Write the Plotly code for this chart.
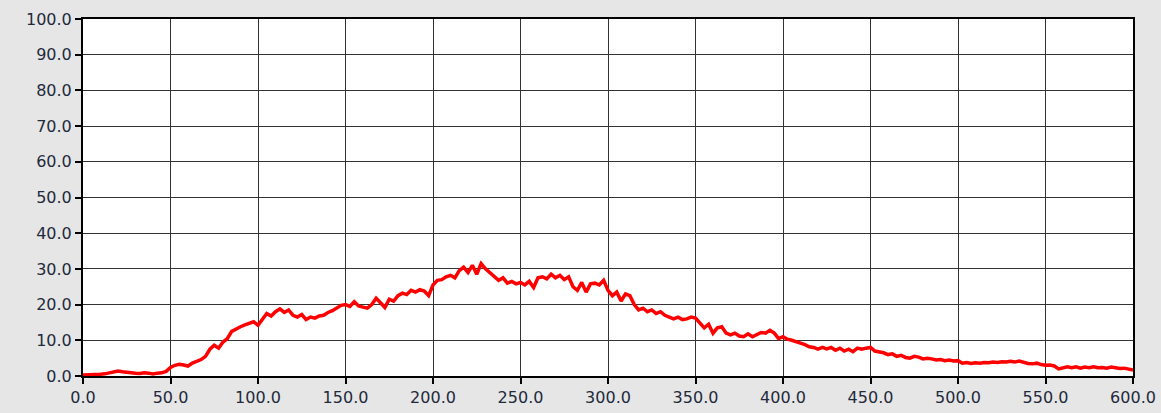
import plotly.graph_objects as go

x_step = 2.5
y_values = [
    0.3, 0.3, 0.3, 0.4, 0.5, 0.6, 0.8, 1.1, 1.4, 1.2,
    1.0, 0.9, 0.8, 0.7, 0.9, 0.8, 0.6, 0.8, 0.9, 1.3,
    2.4, 3.0, 3.3, 3.1, 2.8, 3.6, 4.2, 4.6, 5.5, 7.5,
    8.6, 7.8, 9.5, 10.5, 12.5, 13.2, 13.8, 14.3, 14.8, 15.2,
    14.2, 16.0, 17.5, 16.8, 18.0, 18.8, 17.8, 18.5, 17.0, 16.5,
    17.2, 15.8, 16.5, 16.2, 16.8, 17.0, 17.8, 18.3, 19.2, 19.8,
    20.0, 19.5, 20.8, 19.6, 19.3, 19.0, 20.0, 21.8, 20.5, 19.2,
    21.5, 21.0, 22.5, 23.2, 22.8, 24.0, 23.5, 24.2, 23.8, 22.5,
    25.5, 26.8, 27.0, 27.8, 28.2, 27.5, 29.5, 30.5, 29.0, 31.0,
    28.5, 31.5, 30.0, 29.0, 28.0, 26.8, 27.5, 26.0, 26.5, 25.8,
    26.2, 25.5, 26.5, 24.8, 27.5, 27.8, 27.2, 28.5, 27.5, 28.2,
    27.0, 27.8, 25.0, 24.0, 26.2, 23.5, 25.8, 26.0, 25.5, 26.8,
    24.0, 22.5, 23.5, 21.0, 23.0, 22.5, 20.0, 18.5, 19.0, 18.0,
    18.5, 17.5, 18.0, 17.0, 16.5, 16.0, 16.5, 15.8, 16.0, 16.5,
    16.2, 15.0, 13.5, 14.5, 12.0, 13.5, 13.8, 12.0, 11.5, 12.0,
    11.2, 11.0, 11.8, 11.0, 11.5, 12.2, 12.0, 12.8, 12.0, 10.5,
    11.0, 10.3, 10.0, 9.5, 9.2, 8.8, 8.2, 8.0, 7.5, 8.0,
    7.6, 8.0, 7.2, 7.8, 7.0, 7.5, 6.8, 7.8, 7.5, 7.8,
    8.0, 7.0, 6.8, 6.5, 6.0, 6.2, 5.5, 5.8, 5.2, 5.0,
    5.5, 5.3, 4.8, 5.0, 4.8, 4.5, 4.6, 4.3, 4.5, 4.2,
    4.3, 3.6, 3.8, 3.5, 3.7, 3.6, 3.8, 3.7, 3.9, 3.8,
    4.0, 3.9, 4.1, 3.9, 4.2, 3.8, 3.5, 3.4, 3.6, 3.2,
    3.0, 3.1, 2.8, 2.0, 2.4, 2.6, 2.3, 2.6, 2.2, 2.5,
    2.3, 2.6, 2.3, 2.4, 2.2, 2.5, 2.3, 2.1, 2.2, 2.0,
    1.7,
]
x_values = [i * x_step for i in range(len(y_values))]

x_ticks = [0, 50, 100, 150, 200, 250, 300, 350, 400, 450, 500, 550, 600]
y_ticks = [0, 10, 20, 30, 40, 50, 60, 70, 80, 90, 100]

fig = go.Figure()
fig.add_trace(go.Scatter(
    x=x_values, y=y_values, mode="lines",
    line=dict(color="#ff0000", width=3.5),
    showlegend=False, hoverinfo="x+y",
))

font = dict(family="DejaVu Sans, Verdana, sans-serif", size=16, color="#1f2a3c")
axis_common = dict(
    showgrid=True, gridcolor="#333333", gridwidth=1,
    showline=True, linecolor="#000000", linewidth=2, mirror=True,
    ticks="outside", ticklen=6, tickwidth=2, tickcolor="#000000",
    tickformat=".1f", zeroline=False, tickfont=font, automargin=False,
)

fig.update_layout(
    width=1161, height=413,
    margin=dict(l=83, r=28, t=19, b=37),
    paper_bgcolor="#e6e6e6",
    plot_bgcolor="#ffffff",
    xaxis=dict(range=[0, 600], tickvals=x_ticks, **axis_common),
    yaxis=dict(range=[0, 100], tickvals=y_ticks, **axis_common),
)

fig.write_html(
    "out.html",
    config={"displayModeBar": False},
    post_script="document.body.style.margin='0';document.body.style.overflow='hidden';",
)
